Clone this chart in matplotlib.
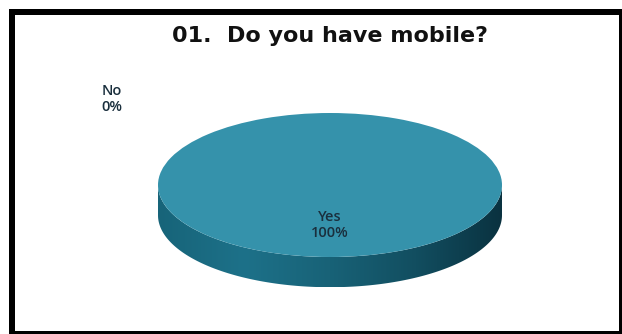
import numpy as np
import matplotlib
matplotlib.use("Agg")
from matplotlib import pyplot as plt
from matplotlib.patches import Rectangle, Polygon

# data
categories = ["No", "Yes"]
shares = [0, 100]
title = "01.  Do you have mobile?"

top_col = "#3592ab"
depth = 0.42  # cylinder height in data units

fig = plt.figure(figsize=(6.22, 3.34), dpi=100)
ax = fig.add_axes([0, 0, 1, 1])

# side of the 3d pie (bottom pie + band with a horizontal gradient)
t = np.linspace(np.pi, 2 * np.pi, 200)
side = np.concatenate([
    np.column_stack([np.cos(t), np.sin(t) - depth]),
    np.column_stack([np.cos(t[::-1]), np.sin(t[::-1])]),
])
side_patch = Polygon(side, closed=True, facecolor="none", edgecolor="none")
ax.add_patch(side_patch)
grad = np.linspace(0, 1, 256).reshape(1, -1)
cmap = matplotlib.colors.LinearSegmentedColormap.from_list(
    "side", ["#176479", "#1d7189", "#186277", "#124e60", "#0a3240"])
img = ax.imshow(grad, cmap=cmap, extent=(-1, 1, -1 - depth, 0.2),
                aspect="auto", zorder=1)
img.set_clip_path(side_patch)

# top face
wedges, _ = ax.pie(shares, colors=["#8fb9c9", top_col], startangle=90,
                   counterclock=False, radius=1,
                   wedgeprops=dict(linewidth=0))
for w in wedges:
    w.set_zorder(2)
ax.set_aspect("auto")

# axes mapping: centre at (330, 185) px, radii 172 x 72 px
ax.set_xlim(-330 / 172, (622 - 330) / 172)
ax.set_ylim(-149 / 72, (334 - 149) / 72)
ax.axis("off")

lab_kw = dict(fontsize=10.5, color="#1a2f3d", family="Open Sans",
              fontweight="semibold", ha="center", va="center",
              linespacing=1.2, zorder=5)
ax.text(0, -0.556, f"{categories[1]}\n{shares[1]}%", **lab_kw)
ax.text(-1.267, 1.194, f"{categories[0]}\n{shares[0]}%", **lab_kw)

fig.text(329.5 / 622, 1 - 42.3 / 334, title, fontsize=16, fontweight="bold",
         family="DejaVu Sans", ha="center", va="baseline", color="#111111")

# black frame
fig.patches.append(Rectangle((12 / 622, 0.5 / 334), 610 / 622, 321.5 / 334,
                             transform=fig.transFigure, fill=False,
                             edgecolor="black", linewidth=4.32))

fig.savefig("out.png", dpi=100)
